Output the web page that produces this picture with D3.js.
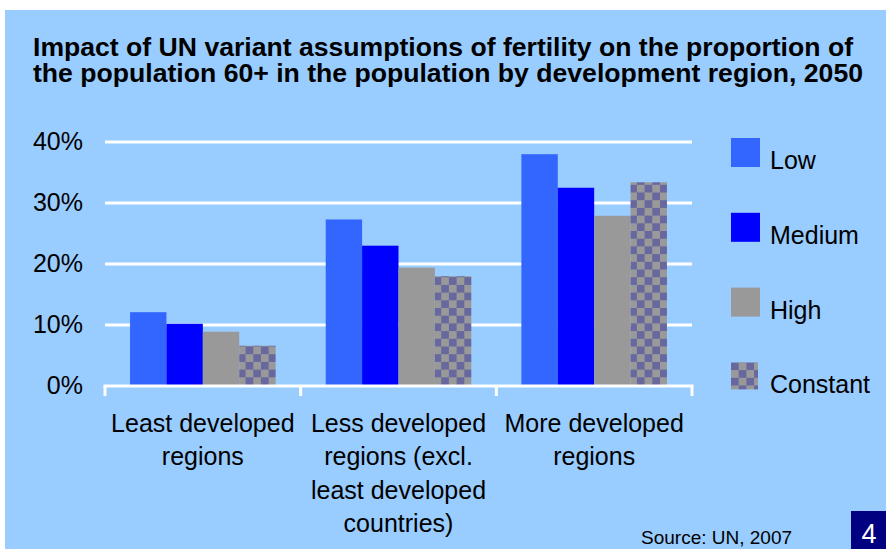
<!DOCTYPE html>
<html>
<head>
<meta charset="utf-8">
<script src="https://cdn.jsdelivr.net/npm/d3@7"></script>
<style>
  html, body { margin: 0; padding: 0; background: #ffffff; }
  svg { display: block; }
  text { font-family: "Liberation Sans", Arial, sans-serif; }
</style>
</head>
<body>
<svg id="chart" width="886" height="549"></svg>
<script>
// Proportion of population aged 60+ in 2050 (%), by fertility variant
const categories = [
  ["Least developed", "regions"],
  ["Less developed", "regions (excl.", "least developed", "countries)"],
  ["More developed", "regions"]
];
const seriesNames = ["Low", "Medium", "High", "Constant"];
const lowValues      = [12.1, 27.3, 38.0];
const mediumValues   = [10.2, 23.0, 32.5];
const highValues     = [8.9, 19.4, 27.9];
const constantValues = [6.6, 18.0, 33.4];
const yTicks = [0, 10, 20, 30, 40];
const titleLines = [
  "Impact of UN variant assumptions of fertility on the proportion of",
  "the population 60+ in the population by development region, 2050"
];
const sourceText = "Source: UN, 2007";
const pageNumber = "4";

const seriesValues = [lowValues, mediumValues, highValues, constantValues];
const fills = ["#3366ff", "#0000ff", "#999999", "url(#checker)"];

const svg = d3.select("#chart");

// checkerboard fill for the constant-fertility variant
const defs = svg.append("defs");
const pat = defs.append("pattern")
  .attr("id", "checker")
  .attr("patternUnits", "userSpaceOnUse")
  .attr("width", 15.4).attr("height", 15.4);
pat.append("rect").attr("width", 15.4).attr("height", 15.4).attr("fill", "#999999");
pat.append("rect").attr("width", 7.7).attr("height", 7.7).attr("fill", "#68689f");
pat.append("rect").attr("x", 7.7).attr("y", 7.7).attr("width", 7.7).attr("height", 7.7).attr("fill", "#68689f");

// panel background
svg.append("rect").attr("x", 5).attr("y", 10).attr("width", 881).attr("height", 539).attr("fill", "#99ccff");

// title
svg.selectAll("text.title").data(titleLines).join("text")
  .attr("class", "title")
  .attr("x", 33)
  .attr("y", (d, i) => 56 + i * 25.5)
  .attr("font-size", 25)
  .attr("font-weight", "bold")
  .attr("fill", "#000")
  .attr("textLength", (d, i) => i === 0 ? 820 : 830)
  .attr("lengthAdjust", "spacingAndGlyphs")
  .text(d => d);

// scales
const x0 = d3.scaleBand().domain(d3.range(categories.length)).range([105, 692]).paddingInner(0.256).paddingOuter(0.128);
const xBand = d3.scaleBand().domain(d3.range(categories.length)).range([105, 692]);
const y = d3.scaleLinear().domain([0, 40]).range([386, 142]);
const x1 = d3.scaleBand().domain(seriesNames).range([0, x0.bandwidth()]);

// gridlines
svg.append("g").selectAll("line").data(yTicks.filter(t => t > 0)).join("line")
  .attr("x1", 105).attr("x2", 692)
  .attr("y1", d => y(d)).attr("y2", d => y(d))
  .attr("stroke", "#ffffff").attr("stroke-width", 3);

// y tick labels
svg.append("g").selectAll("text").data(yTicks).join("text")
  .attr("x", 83)
  .attr("y", d => y(d) + 8)
  .attr("text-anchor", "end")
  .attr("font-size", 25)
  .attr("fill", "#000")
  .text(d => d + "%");

// bars
const groups = svg.append("g").selectAll("g").data(categories).join("g")
  .attr("transform", (d, i) => `translate(${x0(i)},0)`);
groups.selectAll("rect").data((d, i) => seriesNames.map((s, k) => ({ s, k, v: seriesValues[k][i] })))
  .join("rect")
  .attr("x", d => x1(d.s))
  .attr("width", x1.bandwidth())
  .attr("y", d => y(d.v))
  .attr("height", d => y(0) - y(d.v))
  .attr("fill", d => fills[d.k]);

// category axis with tick marks between groups
const axisG = svg.append("g");
axisG.append("line").attr("x1", 103.5).attr("x2", 693.5).attr("y1", 386).attr("y2", 386)
  .attr("stroke", "#ffffff").attr("stroke-width", 3);
const boundaries = d3.range(categories.length).map(i => xBand(i)).concat([xBand.range()[1]]);
axisG.selectAll("line.tick").data(boundaries).join("line")
  .attr("class", "tick")
  .attr("x1", d => d).attr("x2", d => d)
  .attr("y1", 386).attr("y2", 396)
  .attr("stroke", "#ffffff").attr("stroke-width", 3);

// category labels
svg.append("g").selectAll("text").data(categories).join("text")
  .attr("x", (d, i) => xBand(i) + xBand.bandwidth() / 2)
  .attr("y", 432)
  .attr("text-anchor", "middle")
  .attr("font-size", 25)
  .attr("fill", "#000")
  .each(function(lines) {
    d3.select(this).selectAll("tspan").data(lines).join("tspan")
      .attr("x", d3.select(this).attr("x"))
      .attr("dy", (l, j) => j === 0 ? 0 : 33.3)
      .text(l => l);
  });

// legend
const legend = svg.append("g").selectAll("g").data(seriesNames).join("g")
  .attr("transform", (d, i) => `translate(731,${138 + i * 74.8})`);
legend.append("rect")
  .attr("width", (d, i) => i === 3 ? 27 : 29)
  .attr("height", (d, i) => i === 3 ? 27 : 29)
  .attr("fill", (d, i) => fills[i]);
legend.append("text")
  .attr("x", 39).attr("y", 31)
  .attr("font-size", 25)
  .attr("fill", "#000")
  .text(d => d);

// source note
svg.append("text").attr("x", 641).attr("y", 544)
  .attr("font-size", 19).attr("fill", "#000").text(sourceText);

// page number badge
svg.append("rect").attr("x", 851).attr("y", 511).attr("width", 35).attr("height", 38).attr("fill", "#000080");
svg.append("text").attr("x", 869).attr("y", 543).attr("text-anchor", "middle")
  .attr("font-size", 27).attr("fill", "#ffffff").text(pageNumber);
</script>
</body>
</html>
